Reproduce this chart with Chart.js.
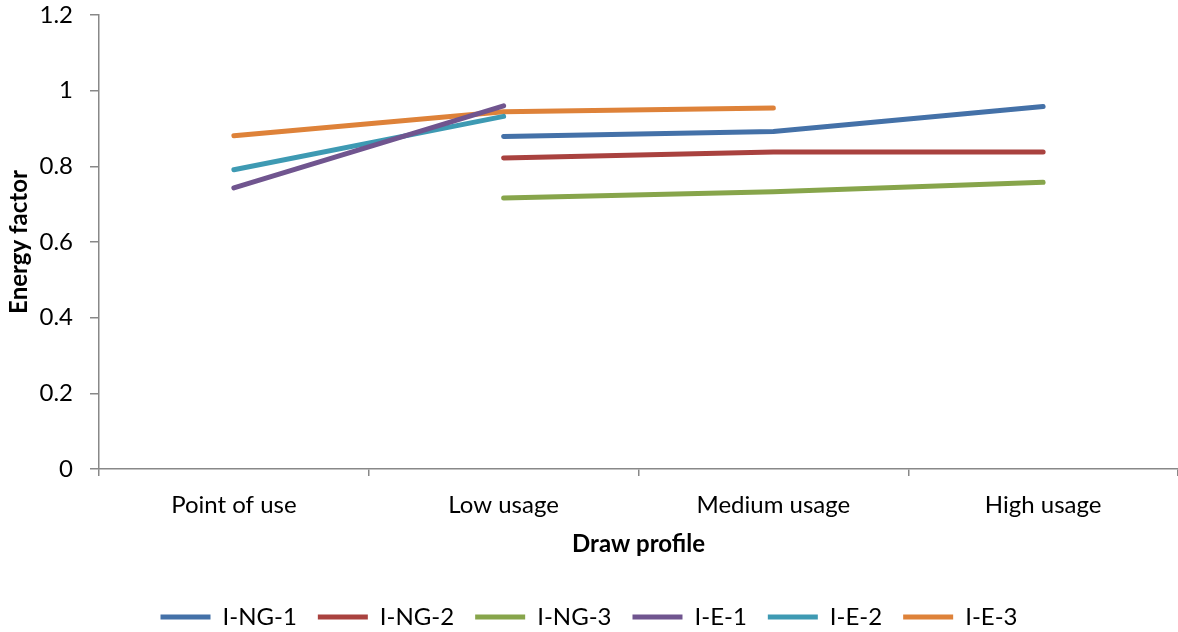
<!DOCTYPE html>
<html>
<head>
<meta charset="utf-8">
<script src="https://cdn.jsdelivr.net/npm/chart.js@4"></script>
<style>
html,body{margin:0;padding:0;background:#fff;}
#wrap{width:1178px;height:632px;}
</style>
</head>
<body>
<div id="wrap"><canvas id="c" width="1178" height="632"></canvas></div>
<script>
const categories = ["Point of use", "Low usage", "Medium usage", "High usage"];
const yTicks = [0, 0.2, 0.4, 0.6, 0.8, 1, 1.2];
const seriesNames = ["I-NG-1", "I-NG-2", "I-NG-3", "I-E-1", "I-E-2", "I-E-3"];
const ING1 = [null, 0.879, 0.892, 0.958];
const ING2 = [null, 0.822, 0.838, 0.838];
const ING3 = [null, 0.716, 0.733, 0.758];
const IE1 = [0.743, 0.960, null, null];
const IE2 = [0.791, 0.932, null, null];
const IE3 = [0.881, 0.944, 0.954, null];
const colors = ["#4471a8", "#a9423f", "#87a54b", "#70558f", "#3e9ab3", "#de8239"];

const seriesData = [ING1, ING2, ING3, IE1, IE2, IE3];
const FONT = "Lato, 'Open Sans', sans-serif";

const datasets = seriesNames.map((n, i) => ({
  label: n,
  data: seriesData[i],
  borderColor: colors[i],
  backgroundColor: colors[i],
  borderWidth: 5,
  borderCapStyle: 'round',
  borderJoinStyle: 'round',
  pointRadius: 0,
  pointHoverRadius: 0,
  tension: 0,
  spanGaps: false,
  fill: false
}));

new Chart(document.getElementById('c'), {
  type: 'line',
  data: { labels: categories, datasets },
  options: {
    responsive: false,
    animation: false,
    layout: { padding: { top: 0, right: 0, left: 0, bottom: -7 } },
    plugins: {
      tooltip: { enabled: false },
      legend: {
        position: 'bottom',
        labels: {
          usePointStyle: true,
          pointStyle: 'line',
          pointStyleWidth: 50,
          boxHeight: 20,
          padding: 21,
          color: '#000',
          font: { family: FONT, size: 24 }
        }
      }
    },
    scales: {
      x: {
        type: 'category',
        offset: true,
        grid: { display: true, drawOnChartArea: false, drawTicks: true, tickLength: 7, offset: true, color: '#888', lineWidth: 1.5 },
        border: { display: true, color: '#888', width: 1.5 },
        ticks: { color: '#000', font: { family: FONT, size: 24 }, padding: 15, maxRotation: 0 },
        title: { display: true, text: 'Draw profile', color: '#000', font: { family: FONT, size: 24, weight: 'bold' }, padding: { top: 10, bottom: 25 } },
        afterFit: (s) => { s.height = 115; }
      },
      y: {
        min: 0, max: 1.2,
        afterBuildTicks: (s) => { s.ticks = yTicks.map(v => ({ value: v })); },
        grid: { display: true, drawOnChartArea: false, drawTicks: true, tickLength: 9, color: '#888', lineWidth: 1.5 },
        border: { display: true, color: '#888', width: 1.5 },
        ticks: { color: '#000', font: { family: FONT, size: 24 }, padding: 17, callback: (v) => String(v) },
        title: { display: true, text: 'Energy factor', color: '#000', font: { family: FONT, size: 24, weight: 'bold' }, padding: { top: 5, bottom: 4 } },
        afterFit: (s) => { s.width = 99; s.paddingTop = 15; s.paddingBottom = 0; }
      }
    }
  }
});
</script>
</body>
</html>
